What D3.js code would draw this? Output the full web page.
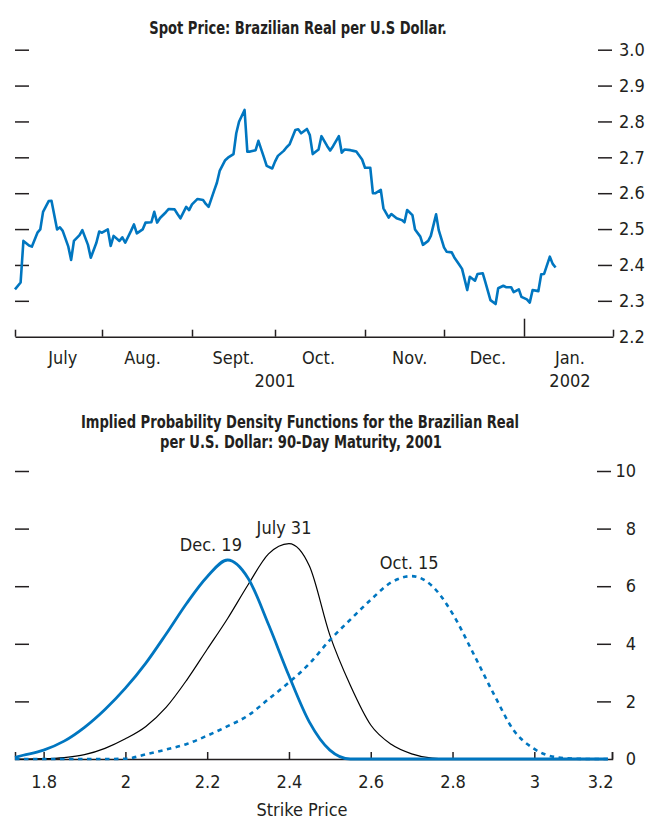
<!DOCTYPE html>
<html><head><meta charset="utf-8">
<script src="https://cdn.jsdelivr.net/npm/d3@7"></script>
<style>
body{margin:0;background:#fff;}
svg text{font-family:"Liberation Sans Narrow","Arial Narrow","DejaVu Sans Condensed",sans-serif;fill:#231f20;font-size:18px;}
</style></head><body>
<svg id="c" width="649" height="821"></svg>
<script>
// ---------------- DATA ----------------
const spotDates = [
"2001-07-01","2001-07-03","2001-07-04","2001-07-06","2001-07-07","2001-07-09","2001-07-10","2001-07-11","2001-07-13","2001-07-14",
"2001-07-16","2001-07-17","2001-07-18","2001-07-20","2001-07-21","2001-07-22","2001-07-24","2001-07-25","2001-07-27","2001-07-28",
"2001-07-30","2001-07-31","2001-08-01","2001-08-03","2001-08-04","2001-08-05","2001-08-07","2001-08-08","2001-08-09","2001-08-11",
"2001-08-12","2001-08-13","2001-08-15","2001-08-16","2001-08-18","2001-08-19","2001-08-20","2001-08-21","2001-08-23","2001-08-24",
"2001-08-26","2001-08-27","2001-08-28","2001-08-30","2001-08-31","2001-09-01","2001-09-03","2001-09-05","2001-09-06","2001-09-07",
"2001-09-09","2001-09-10","2001-09-11","2001-09-13","2001-09-14","2001-09-16","2001-09-17","2001-09-18","2001-09-20","2001-09-21",
"2001-09-22","2001-09-24","2001-09-25","2001-09-27","2001-09-28","2001-09-30","2001-10-01","2001-10-02","2001-10-04","2001-10-05",
"2001-10-06","2001-10-08","2001-10-09","2001-10-10","2001-10-12","2001-10-13","2001-10-14","2001-10-16","2001-10-17","2001-10-19",
"2001-10-20","2001-10-21","2001-10-23","2001-10-24","2001-10-25","2001-10-27","2001-10-28","2001-10-29","2001-10-31","2001-11-01",
"2001-11-03","2001-11-04","2001-11-05","2001-11-07","2001-11-08","2001-11-10","2001-11-11","2001-11-13","2001-11-15","2001-11-16",
"2001-11-17","2001-11-19","2001-11-20","2001-11-22","2001-11-23","2001-11-25","2001-11-26","2001-11-28","2001-11-29","2001-12-01",
"2001-12-02","2001-12-04","2001-12-05","2001-12-07","2001-12-08","2001-12-10","2001-12-11","2001-12-13","2001-12-14","2001-12-16",
"2001-12-17","2001-12-19","2001-12-21","2001-12-22","2001-12-24","2001-12-25","2001-12-27","2001-12-28","2001-12-30","2001-12-31",
"2002-01-02","2002-01-03","2002-01-04","2002-01-06","2002-01-07","2002-01-08","2002-01-10","2002-01-11","2002-01-12"];
const spotValues = [
2.332,2.351,2.467,2.454,2.451,2.490,2.499,2.548,2.578,2.579,
2.499,2.505,2.495,2.451,2.414,2.467,2.483,2.497,2.456,2.420,
2.462,2.493,2.490,2.499,2.453,2.481,2.467,2.477,2.462,2.495,
2.513,2.488,2.499,2.518,2.519,2.548,2.518,2.531,2.547,2.556,
2.555,2.542,2.530,2.562,2.553,2.569,2.584,2.581,2.570,2.562,
2.607,2.629,2.662,2.692,2.699,2.709,2.767,2.799,2.832,2.716,
2.716,2.720,2.746,2.700,2.676,2.669,2.688,2.704,2.718,2.728,
2.736,2.776,2.778,2.767,2.779,2.762,2.709,2.722,2.759,2.731,
2.719,2.731,2.759,2.713,2.722,2.720,2.718,2.716,2.694,2.671,
2.671,2.600,2.600,2.609,2.558,2.532,2.542,2.530,2.525,2.519,
2.553,2.539,2.499,2.479,2.456,2.467,2.481,2.541,2.497,2.449,
2.437,2.435,2.421,2.400,2.389,2.330,2.367,2.356,2.375,2.377,
2.353,2.302,2.291,2.335,2.342,2.338,2.338,2.324,2.332,2.311,
2.304,2.295,2.330,2.327,2.374,2.375,2.423,2.403,2.393];
const monthStarts = ["2001-07-01","2001-08-01","2001-09-01","2001-10-01","2001-11-01","2001-12-01","2002-01-01","2002-02-01"];
const monthLabels = ["July","Aug.","Sept.","Oct.","Nov.","Dec.","Jan."];
const monthLabelDates = ["2001-07-18","2001-08-15","2001-09-16","2001-10-16","2001-11-18","2001-12-18","2002-01-17"];
const yearLabels = ["2001","2002"];
const yearLabelDates = ["2001-10-01","2002-01-17"];
const yearBoundary = "2002-01-01";
const spotTicks = [2.2,2.3,2.4,2.5,2.6,2.7,2.8,2.9,3.0];

const strikes = [1.73,1.75,1.80,1.85,1.90,1.95,2.00,2.05,2.10,2.15,2.20,2.25,2.30,2.35,2.40,2.45,2.50,2.55,2.60,2.65,2.70,2.75,2.80,2.85,2.90,2.95,3.00,3.05,3.10,3.15,3.18];
const pdfDec19 = [0.06,0.13,0.31,0.62,1.10,1.72,2.46,3.33,4.35,5.41,6.33,6.91,6.28,4.67,2.89,1.28,0.31,0,0,0,0,0,0,0,0,0,0,0,0,0,0];
const pdfJul31 = [0,0,0.01,0.05,0.15,0.37,0.70,1.13,1.80,2.74,3.81,4.88,6.05,7.12,7.48,6.70,4.30,2.56,1.18,0.51,0.18,0.03,0,0,0,0,0,0,0,0,0];
const pdfOct15 = [0,0,0,0,0,0,0.01,0.16,0.33,0.52,0.81,1.14,1.51,2.08,2.66,3.31,4.13,4.84,5.53,6.13,6.35,6.01,5.05,3.69,2.28,0.99,0.35,0.07,0.01,0,0];
const strikeTicks = [1.8,2,2.2,2.4,2.6,2.8,3,3.2];
const densityTicks = [0,2,4,6,8,10];
const seriesNames = ["Dec. 19","July 31","Oct. 15"];

// ---------------- LAYOUT ----------------
const ink = "#231f20", blue = "#0076c0";
const svg = d3.select("#c");
const parse = d3.timeParse("%Y-%m-%d");
const title = (x,y,t) => svg.append("text").attr("transform",`translate(${x},${y}) scale(0.81,1)`)
  .attr("text-anchor","middle").style("font-weight","bold").style("font-size","18px").text(t);

// ===== Top chart =====
const xT = d3.scaleTime().domain(monthStarts.map(parse)).range([15,102,192,275,365,444,524,613]);
const yT = d3.scaleLinear().domain([2.2,3.0]).range([336.7,49.7]);

title(298,33.5,"Spot Price: Brazilian Real per U.S Dollar.");

const tl = svg.append("g").attr("transform","translate(15,0)").attr("color",ink)
  .call(d3.axisRight(yT).tickValues(spotTicks.slice(1)).tickSize(14).tickFormat(""));
tl.select(".domain").remove();
tl.selectAll("line").attr("stroke-width",1.5);
const tr = svg.append("g").attr("transform","translate(612,0)").attr("color",ink)
  .call(d3.axisRight(yT).tickValues(spotTicks).tickSize(-14).tickPadding(7).tickFormat(d3.format(".1f")));
tr.select(".domain").remove();
tr.selectAll("line").attr("stroke-width",1.5).filter(d=>d===2.2).remove();

const tx = svg.append("g").attr("transform",`translate(0,${yT(2.2)})`).attr("color",ink)
  .call(d3.axisBottom(xT).tickValues(monthStarts.map(parse)).tickSizeInner(-7).tickSizeOuter(0).tickFormat(""));
tx.select(".domain").attr("stroke-width",1.5);
tx.selectAll("line").attr("stroke-width",1.5)
  .filter(d=>+d===+parse(yearBoundary)).attr("y2",-18);

svg.append("g").selectAll("text").data(monthLabels).join("text")
  .attr("x",(d,i)=>xT(parse(monthLabelDates[i]))).attr("y",364).attr("text-anchor","middle").text(d=>d);
svg.append("g").selectAll("text").data(yearLabels).join("text")
  .attr("x",(d,i)=>xT(parse(yearLabelDates[i]))).attr("y",386.5).attr("text-anchor","middle").text(d=>d);

const spot = spotDates.map((d,i)=>({date:parse(d),v:spotValues[i]}));
svg.append("path").datum(spot)
  .attr("fill","none").attr("stroke",blue).attr("stroke-width",2.6).attr("stroke-linejoin","round")
  .attr("d",d3.line().x(d=>xT(d.date)).y(d=>yT(d.v)));

// ===== Bottom chart =====
const xB = d3.scaleLinear().domain([1.73,3.19]).range([15,612]).clamp(true);
const yB = d3.scaleLinear().domain([0,10]).range([759,471]);

title(300,428,"Implied Probability Density Functions for the Brazilian Real");
title(301,447.5,"per U.S. Dollar: 90-Day Maturity, 2001");

const bl = svg.append("g").attr("transform","translate(15,0)").attr("color",ink)
  .call(d3.axisRight(yB).tickValues(densityTicks.slice(1)).tickSize(14).tickFormat(""));
bl.select(".domain").remove();
bl.selectAll("line").attr("stroke-width",1.5);
const br = svg.append("g").attr("transform","translate(611,0)").attr("color",ink)
  .call(d3.axisRight(yB).tickValues(densityTicks).tickSize(-14).tickPadding(25).tickFormat(d3.format("d")));
br.select(".domain").remove();
br.selectAll("text").attr("text-anchor","end");
br.selectAll("line").attr("stroke-width",1.5).filter(d=>d===0).remove();

const bx = svg.append("g").attr("transform",`translate(0,${yB(0)})`).attr("color",ink)
  .call(d3.axisBottom(xB).tickValues(strikeTicks).tickSizeInner(-7).tickSizeOuter(-7).tickPadding(16).tickFormat(d=>String(d)));
bx.select(".domain").attr("stroke-width",1.5);
bx.selectAll("line").attr("stroke-width",1.5);
bx.selectAll(".tick text").filter(d=>d===3.2).attr("text-anchor","end").attr("x",1);

svg.append("text").attr("x",302).attr("y",816).attr("text-anchor","middle").text("Strike Price");

const lineB = d3.line().x(d=>xB(d.s)).y(d=>yB(d.v)).curve(d3.curveMonotoneX);
const mk = arr => strikes.map((s,i)=>({s,v:arr[i]}));
svg.append("path").datum(mk(pdfJul31)).attr("fill","none").attr("stroke","#000").attr("stroke-width",1.2).attr("d",lineB);
svg.append("path").datum(mk(pdfOct15)).attr("fill","none").attr("stroke",blue).attr("stroke-width",2.6)
  .attr("stroke-dasharray","4.5,4.5").attr("d",lineB);
svg.append("path").datum(mk(pdfDec19)).attr("fill","none").attr("stroke",blue).attr("stroke-width",2.8).attr("d",lineB);

const labelAt = [[2.209,7.22],[2.388,7.8],[2.694,6.6]];
svg.append("g").selectAll("text").data(seriesNames).join("text")
  .attr("x",(d,i)=>xB(labelAt[i][0])).attr("y",(d,i)=>yB(labelAt[i][1]))
  .attr("text-anchor","middle").text(d=>d);
</script>
</body></html>
